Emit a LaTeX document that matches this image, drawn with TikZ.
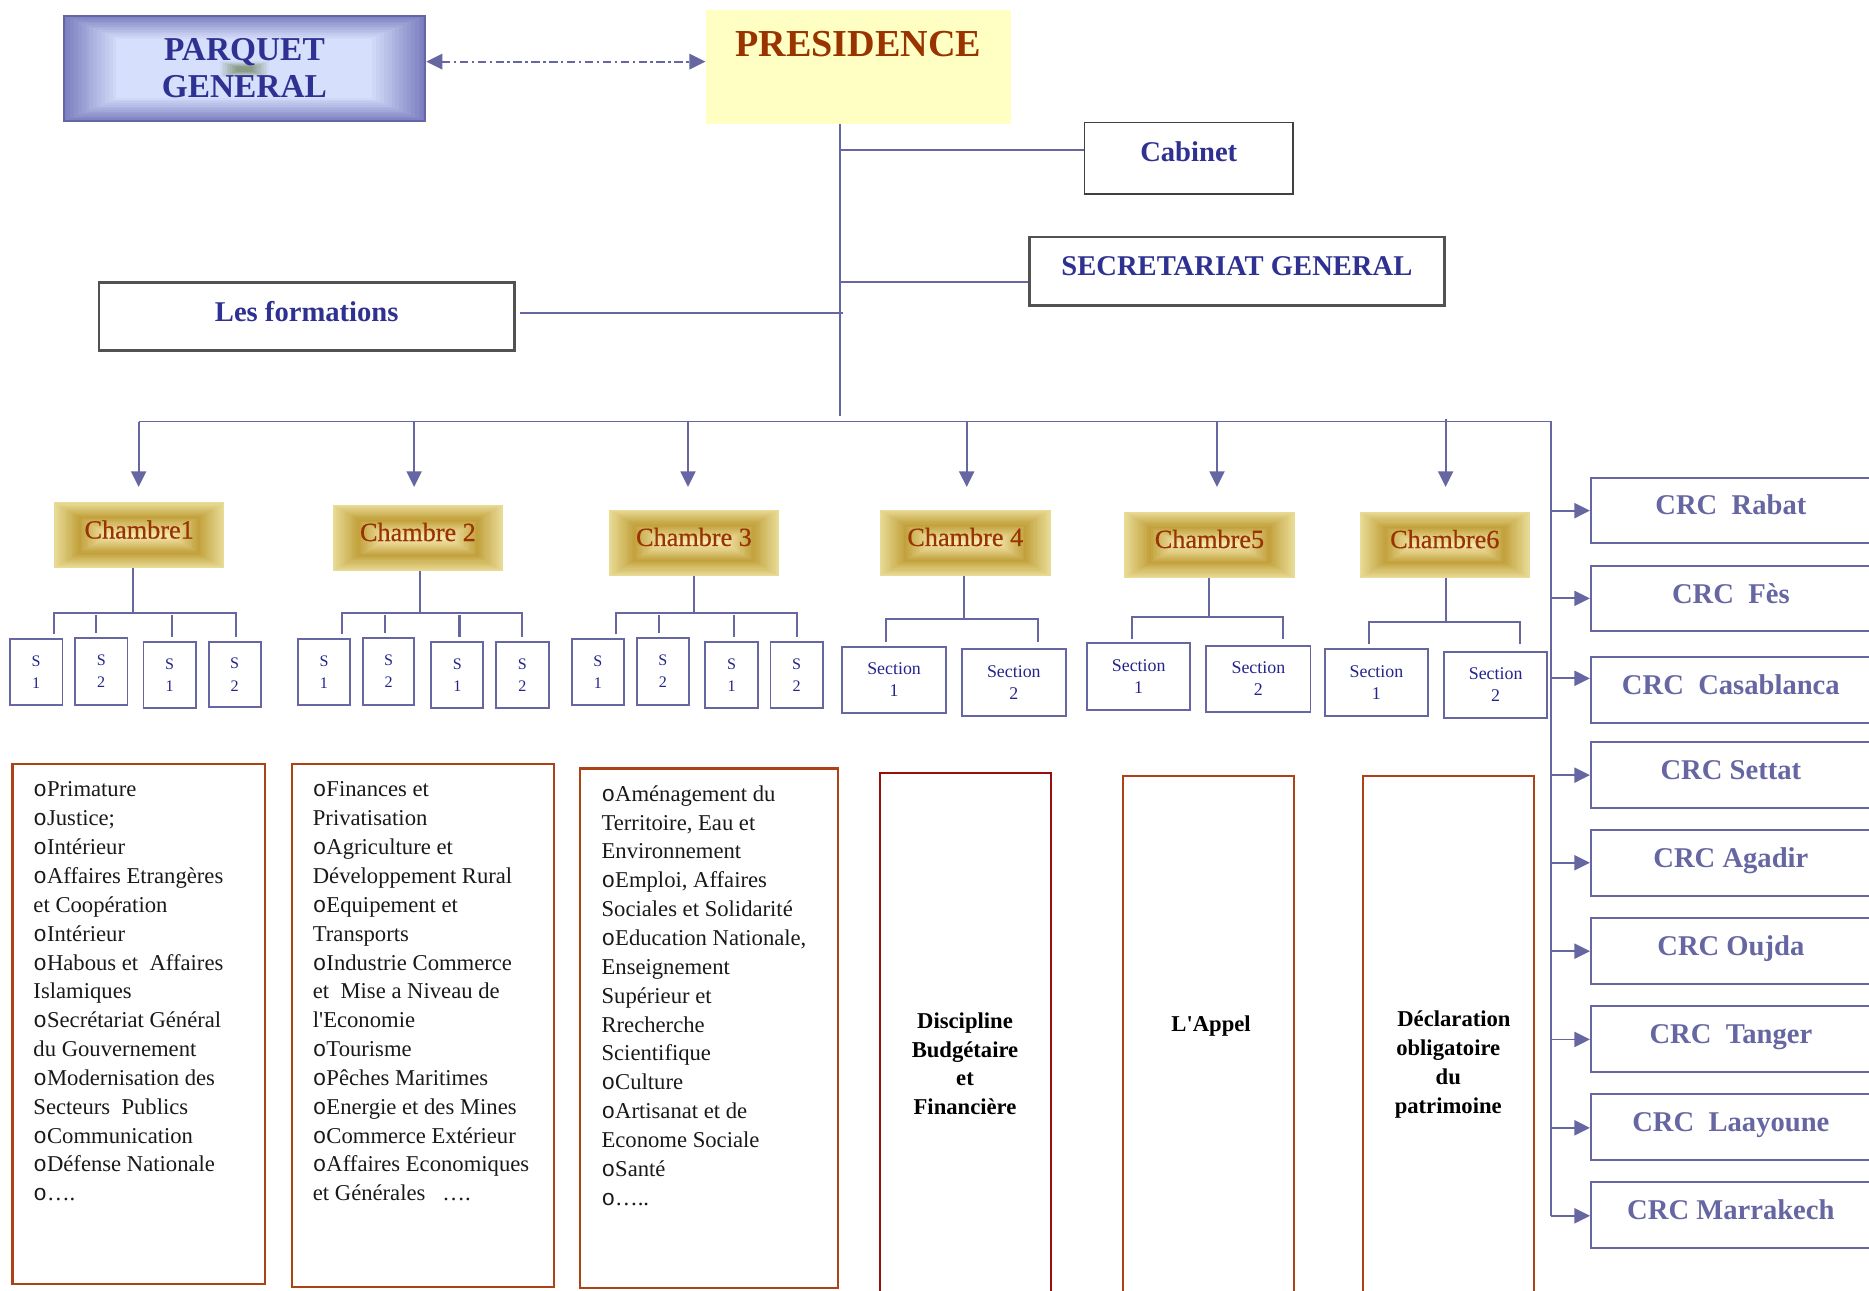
\documentclass[tikz,border=0pt]{standalone}
\usepackage{fontspec}
\setmainfont{Liberation Serif}[Ligatures=TeXOff]
\newfontfamily\bulletfont{Liberation Mono}
\newfontfamily\chamberfont{Liberation Serif}[Ligatures=TeXOff,FakeBold=0.5]
\usetikzlibrary{arrows.meta,calc,backgrounds}

\definecolor{lineblue}{RGB}{102,102,162}
\definecolor{titleblue}{RGB}{46,49,146}
\definecolor{rust}{RGB}{153,51,0}
\definecolor{presfill}{RGB}{255,255,196}
\definecolor{secblue}{RGB}{36,36,140}
\definecolor{brownred}{RGB}{172,66,22}
\definecolor{darkred}{RGB}{150,14,14}
\definecolor{goldA}{RGB}{232,219,150}
\definecolor{goldB}{RGB}{194,161,60}
\definecolor{goldC}{RGB}{246,234,178}
\definecolor{pgA}{RGB}{122,125,190}
\definecolor{pgB}{RGB}{214,223,251}
\definecolor{pgborder}{RGB}{100,102,166}
\definecolor{smudge}{RGB}{128,146,118}

% bullet of the ministry lists
\newcommand\lbul{{\bulletfont o}}

% box given by its two corners: style, name, x1, y1, x2, y2, text
\newcommand\placebox[7]{%
  \pgfmathsetmacro\pbw{#5-#3}\pgfmathsetmacro\pbh{#6-#4}%
  \pgfmathsetmacro\pbx{(#3+#5)/2}\pgfmathsetmacro\pby{(#4+#6)/2}%
  \node[#1, minimum width=\pbw pt, minimum height=\pbh pt] (#2) at (\pbx,\pby) {#7};}

% rectangular frame gradient behind a node:
% node, outer colour, middle colour, inner colour, middle position, x inset, y inset
\newcommand\framefill[7]{%
  \foreach \i in {0,...,31}{%
    \pgfmathsetmacro\ft{\i/31}%
    \pgfmathsetmacro\fdx{\ft*#6}%
    \pgfmathsetmacro\fdy{\ft*#7}%
    \ifdim\ft pt<#5pt
      \pgfmathsetmacro\fp{100*\ft/#5}%
      \colorlet{ffc}{#3!\fp!#2}%
    \else
      \pgfmathsetmacro\fp{100*(\ft-#5)/(1-#5)}%
      \colorlet{ffc}{#4!\fp!#3}%
    \fi
    \fill[ffc] ($(#1.south west)+(\fdx pt,\fdy pt)$) rectangle ($(#1.north east)-(\fdx pt,\fdy pt)$);
  }%
}

% vertical drop from a bar to a box
\newcommand\drop[3]{%
  \coordinate (dtmp) at (#1,#2);
  \draw[branch, shorten >=3pt] (dtmp) -- (dtmp |- #3.north);}

\begin{document}
\begin{tikzpicture}[x=1pt,y=-1pt,
  conn/.style={draw=lineblue, line width=1.5pt},
  branch/.style={draw=lineblue, line width=1.7pt},
  arr/.style={conn, -{Triangle[length=13pt,width=12.6pt]}},
  dda/.style={draw=lineblue, line width=1.5pt, dash pattern=on 7pt off 3pt on 2pt off 3pt,
    {Triangle[length=13.5pt,width=13pt]}-{Triangle[length=13.5pt,width=13pt]}},
  pgbox/.style={draw=pgborder, line width=1.8pt, inner sep=0pt, align=center,
    font=\bfseries\fontsize{28}{30.7}\selectfont, text=titleblue},
  presbox/.style={fill=presfill, inner sep=0pt},
  prestxt/.style={inner sep=0pt, text depth=0pt, font=\bfseries\fontsize{32}{36}\selectfont, text=rust},
  cabbox/.style={draw=black!75, line width=1.1pt, inner sep=0pt},
  sgbox/.style={draw=black!68, line width=2.1pt, inner sep=0pt},
  titletxt/.style={inner sep=0pt, text depth=0pt, font=\bfseries\fontsize{24}{28}\selectfont, text=titleblue},
  chbox/.style={inner sep=0pt},
  chtxt/.style={inner sep=0pt, text depth=0pt, font=\chamberfont\fontsize{22}{26}\selectfont, text=rust},
  sbox/.style={draw=lineblue, line width=1.6pt, inner sep=0pt, align=center,
    font=\fontsize{13.5}{18.8}\selectfont, text=secblue},
  secbox/.style={sbox, font=\fontsize{15}{18.4}\selectfont},
  listbox/.style={draw=brownred, line width=1.8pt, inner sep=0pt},
  redbox/.style={draw=darkred, line width=1.8pt, inner sep=0pt},
  listtxt/.style={anchor=base west, inner sep=0pt, font=\fontsize{19}{24.2}\selectfont, text=black!90},
  boldtxt/.style={inner sep=0pt, align=center, font=\bfseries\fontsize{19}{24.2}\selectfont},
  crcbox/.style={draw=lineblue, line width=1.8pt, inner sep=0pt},
  crctxt/.style={inner sep=0pt, text depth=0pt, font=\bfseries\fontsize{24}{28}\selectfont, text=lineblue}
]
\useasboundingbox (0,0) rectangle (1568,1083);
\clip (0,0) rectangle (1568,1083);

% ---------- top level ----------
\placebox{pgbox}{parquet}{53.4}{13.4}{356.7}{101.2}{PARQUET\\GENERAL}
\placebox{presbox}{pres}{592}{8}{848}{104}{}
\node[prestxt] (prest) at (720,36.4) {PRESIDENCE};
\placebox{cabbox}{cab}{909.8}{102.9}{1084.7}{162.8}{}
\node[titletxt] (cabt) at (997.3,127.2) {Cabinet};
\placebox{sgbox}{sg}{863.5}{198.8}{1211.9}{256.4}{}
\node[titletxt] (sgt) at (1037.7,222.9) {SECRETARIAT GENERAL};
\placebox{sgbox}{form}{83}{236.8}{431.6}{294.2}{}
\node[titletxt] (formt) at (257.3,261.5) {Les formations};

\coordinate (pgy) at (0,51.7);
\draw[dda] (parquet.east |- pgy) -- (pres.west |- pgy);

% trunk under the presidence
\coordinate (tr) at ([xshift=-15.5pt]pres.south);
\coordinate (trb) at (704.5,349);
\draw[conn] (tr) -- (trb);
\coordinate (cabj) at ([yshift=7.1pt]cab.west);
\draw[conn] (tr |- cabj) -- (cabj);
\coordinate (sgj) at ([yshift=-8.7pt]sg.west);
\draw[conn] (tr |- sgj) -- (sgj);
\coordinate (formj) at ([xshift=3.4pt,yshift=2.6pt]form.east);
\coordinate (trx) at ([xshift=3pt]tr);
\draw[conn] (formj) -- (formj -| trx);

% main bus
\coordinate (busL) at (116.3,353.7);
\coordinate (busR) at (1301.3,353.7);
\coordinate (busB) at (1301.3,1020);
\draw[conn] (busL) -- (busR) -- (busB);

\foreach \n/\x/\ys in {1/116.3/353.7, 2/347.4/353.7, 3/577.2/353.7, 4/811/353.7, 5/1021/353.7, 6/1212.8/351.5}{
  \coordinate (ca\n) at (\x,\ys);
  \coordinate (cb\n) at (\x,408.5);
  \draw[arr] (ca\n) -- (cb\n);
}

% ---------- chambers ----------
\placebox{chbox}{ch1}{45.5}{421.7}{188}{476.6}{}
\placebox{chbox}{ch2}{279.5}{423.7}{421.7}{478.8}{}
\placebox{chbox}{ch3}{511}{427.9}{653.4}{482.9}{}
\placebox{chbox}{ch4}{738.2}{427.9}{881.4}{482.9}{}
\placebox{chbox}{ch5}{943.4}{429.6}{1085.9}{484.6}{}
\placebox{chbox}{ch6}{1141}{429.8}{1283.2}{484.6}{}
\begin{scope}[on background layer]
  \foreach \c in {ch1,ch2,ch3,ch4,ch5,ch6}{\framefill{\c}{goldA}{goldB}{goldC}{0.45}{46}{27.4}}
  \framefill{parquet}{pgA}{pgB}{pgB}{0.45}{100}{43.9}
  % soft greenish spot in the middle of the parquet box
  \foreach \j in {0,...,11}{
    \pgfmathsetmacro\sp{\j*8}
    \pgfmathsetmacro\sdx{22-\j*1.4}
    \pgfmathsetmacro\sdy{7-\j*0.45}
    \fill[smudge!\sp!pgB] ($(parquet.center)+(-\sdx pt,-\sdy pt)+(0pt,-0.8pt)$) rectangle ($(parquet.center)+(\sdx pt,\sdy pt)+(0pt,-0.8pt)$);
  }
\end{scope}
\node[chtxt] (ch1t) at ($(ch1.center)+(0pt,5pt)$) {Chambre1};
\node[chtxt] (ch2t) at ($(ch2.center)+(0pt,5pt)$) {Chambre 2};
\node[chtxt] (ch3t) at ($(ch3.center)+(0pt,5pt)$) {Chambre 3};
\node[chtxt] (ch4t) at ($(ch4.center)+(0pt,5pt)$) {Chambre 4};
\node[chtxt] (ch5t) at ($(ch5.center)+(0pt,5pt)$) {Chambre5};
\node[chtxt] (ch6t) at ($(ch6.center)+(0pt,5pt)$) {Chambre6};

% ---------- sections ----------
\placebox{sbox}{s11}{8.1}{536}{52.4}{591.5}{S\\1}
\placebox{sbox}{s12}{62.9}{535}{107}{591.5}{S\\2}
\placebox{sbox}{s13}{120.4}{538.6}{164.2}{594}{S\\1}
\placebox{sbox}{s14}{175.2}{538.6}{218.6}{593.5}{S\\2}
\placebox{sbox}{s21}{250}{536}{293.6}{591.5}{S\\1}
\placebox{sbox}{s22}{304.3}{535}{347.7}{591.5}{S\\2}
\placebox{sbox}{s23}{361.8}{538.6}{405.5}{594}{S\\1}
\placebox{sbox}{s24}{416.3}{538.6}{460.3}{594}{S\\2}
\placebox{sbox}{s31}{479.8}{536}{523.4}{591.5}{S\\1}
\placebox{sbox}{s32}{534.3}{535}{578}{591.5}{S\\2}
\placebox{sbox}{s33}{591.8}{538.6}{635.8}{594}{S\\1}
\placebox{sbox}{s34}{646.4}{538.6}{690.4}{594}{S\\2}
\placebox{secbox}{t41}{706.7}{542.5}{793.5}{598.4}{Section\\1}
\placebox{secbox}{t42}{806.9}{544.5}{894.2}{600.7}{Section\\2}
\placebox{secbox}{t51}{912}{539.7}{998.6}{595.6}{Section\\1}
\placebox{secbox}{t52}{1012}{541.7}{1099.4}{597.6}{Section\\2}
\placebox{secbox}{t61}{1111.7}{544.7}{1197.8}{600.7}{Section\\1}
\placebox{secbox}{t62}{1211.3}{546.7}{1298.2}{602.6}{Section\\2}

% chamber 1
\coordinate (b1L) at (45,514); \coordinate (b1R) at (197.6,514); \coordinate (k1) at (111.4,0);
\draw[branch] (ch1.south -| k1) -- (k1 |- b1L);
\draw[branch, shorten <=3pt, shorten >=3pt] (b1L |- s11.north) -- (b1L) -- (b1R) -- (b1R |- s14.north);
\drop{80.9}{516}{s12} \drop{144.4}{516}{s13}
% chamber 2
\coordinate (b2L) at (286.6,514); \coordinate (b2R) at (438.2,514); \coordinate (k2) at (352,0);
\draw[branch] (ch2.south -| k2) -- (k2 |- b2L);
\draw[branch, shorten <=3pt, shorten >=3pt] (b2L |- s21.north) -- (b2L) -- (b2R) -- (b2R |- s24.north);
\drop{322.9}{516}{s22} \drop{385.5}{516}{s23}
% chamber 3
\coordinate (b3L) at (516.7,514); \coordinate (b3R) at (668.9,514); \coordinate (k3) at (582.2,0);
\draw[branch] (ch3.south -| k3) -- (k3 |- b3L);
\draw[branch, shorten <=3pt, shorten >=3pt] (b3L |- s31.north) -- (b3L) -- (b3R) -- (b3R |- s34.north);
\drop{552.9}{516}{s32} \drop{616}{516}{s33}
% chamber 4
\coordinate (b4L) at (743.3,519.6); \coordinate (b4R) at (871.1,519.6); \coordinate (k4) at (808.5,0);
\draw[branch] (ch4.south -| k4) -- (k4 |- b4L);
\draw[branch, shorten <=3pt, shorten >=5pt] (b4L |- t41.north) -- (b4L) -- (b4R) -- (b4R |- t42.north);
% chamber 5
\coordinate (b5L) at (950,517.3); \coordinate (b5R) at (1076.3,517.3); \coordinate (k5) at (1014,0);
\draw[branch] (ch5.south -| k5) -- (k5 |- b5L);
\draw[branch, shorten <=3pt, shorten >=5pt] (b5L |- t51.north) -- (b5L) -- (b5R) -- (b5R |- t52.north);
% chamber 6
\coordinate (b6L) at (1148.2,521.5); \coordinate (b6R) at (1274.8,521.5); \coordinate (k6) at (1212.8,0);
\draw[branch] (ch6.south -| k6) -- (k6 |- b6L);
\draw[branch, shorten <=4pt, shorten >=6pt] (b6L |- t61.north) -- (b6L) -- (b6R) -- (b6R |- t62.north);

% ---------- attributions ----------
\placebox{listbox}{b1}{10.5}{641}{222.3}{1077.4}{}
\placebox{listbox}{b2}{245}{641}{464.8}{1079.4}{}
\placebox{listbox}{b3}{486.8}{644.7}{703.2}{1080.8}{}
\placebox{redbox}{b4}{738.2}{648.4}{881.7}{1100}{}
\placebox{listbox}{b5}{942.4}{651}{1085.6}{1100}{}
\placebox{listbox}{b6}{1143.7}{651}{1287.2}{1100}{}

\node[listtxt] (l1) at (27.9,668.6) {\begin{tabular}[t]{@{}l@{}}
\lbul Primature\\
\lbul Justice;\\
\lbul Intérieur\\
\lbul Affaires Etrangères\\
et Coopération\\
\lbul Intérieur\\
\lbul Habous et\ \ Affaires\\
Islamiques\\
\lbul Secrétariat Général\\
du Gouvernement\\
\lbul Modernisation des\\
Secteurs\ \ Publics\\
\lbul Communication\\
\lbul Défense Nationale\\
\lbul ….
\end{tabular}};

\node[listtxt] (l2) at (262.3,668.6) {\begin{tabular}[t]{@{}l@{}}
\lbul Finances et\\
Privatisation\\
\lbul Agriculture et\\
Développement Rural\\
\lbul Equipement et\\
Transports\\
\lbul Industrie Commerce\\
et\ \ Mise a Niveau de\\
l'Economie\\
\lbul Tourisme\\
\lbul Pêches Maritimes\\
\lbul Energie et des Mines\\
\lbul Commerce Extérieur\\
\lbul Affaires Economiques\\
et Générales\ \ \ ….
\end{tabular}};

\node[listtxt] (l3) at (504.5,672.2) {\begin{tabular}[t]{@{}l@{}}
\lbul Aménagement du\\
Territoire, Eau et\\
Environnement\\
\lbul Emploi, Affaires\\
Sociales et Solidarité\\
\lbul Education Nationale,\\
Enseignement\\
Supérieur et\\
Rrecherche\\
Scientifique\\
\lbul Culture\\
\lbul Artisanat et de\\
Econome Sociale\\
\lbul Santé\\
\lbul …..
\end{tabular}};

\node[boldtxt] (b4t) at (809.6,892.4) {Discipline\\Budgétaire\\et\\Financière};
\node[boldtxt, text depth=0pt] (b5t) at (1016,859.1) {L'Appel};
\node[boldtxt] (b6t) at (1215,893) {\hspace*{9.6pt}Déclaration\\obligatoire\\du\\patrimoine};

% ---------- regional courts ----------
\foreach \nm/\tx/\yt/\yb/\ya in {
  rabat/{CRC\ \ Rabat}/400.8/455.7/428.4,
  fes/{CRC\ \ Fès}/474.7/529.6/502,
  casa/{CRC\ \ Casablanca}/551/606.3/569.1,
  settat/{CRC Settat}/622.5/677.9/650.3,
  agadir/{CRC Agadir}/696.4/751.7/723.8,
  oujda/{CRC Oujda}/770.3/825.5/798,
  tanger/{CRC\ \ Tanger}/844.1/899.5/872,
  laayoune/{CRC\ \ Laayoune}/918/973.3/946.2,
  marrakech/{CRC Marrakech}/991.9/1047.2/1020}{
  \placebox{crcbox}{\nm}{1334.8}{\yt}{1575}{\yb}{}
  \node[crctxt] (\nm t) at ($(\nm.center)+(-2.8pt,4.6pt)$) {\tx};
  \coordinate (cj) at (1301.3,\ya);
  \draw[arr] (cj) -- (cj -| \nm.west);
}
\end{tikzpicture}
\end{document}
